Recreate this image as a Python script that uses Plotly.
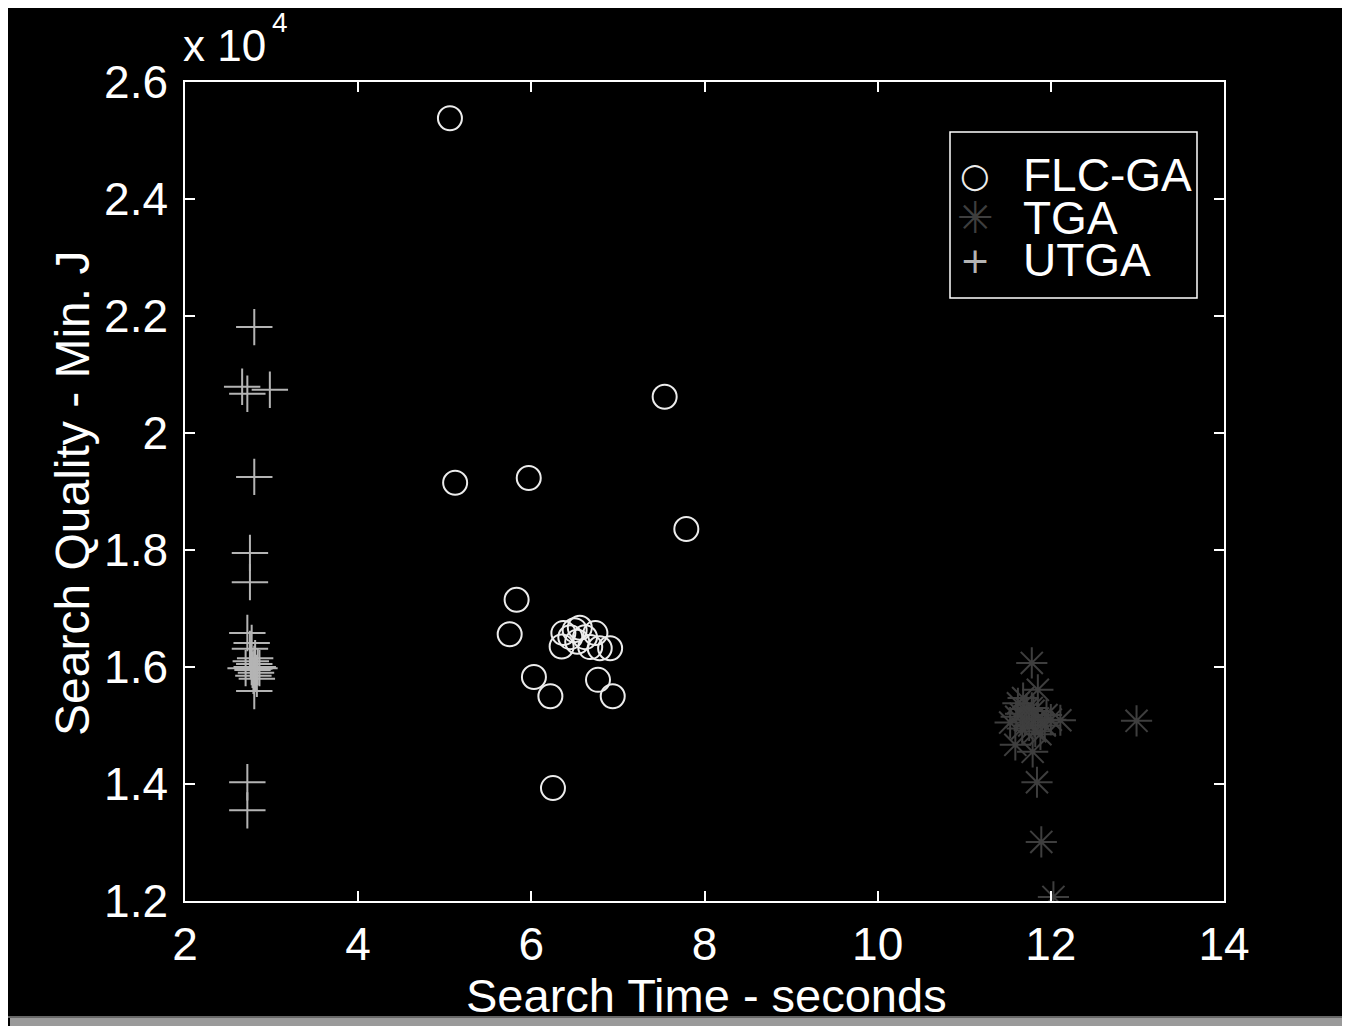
import plotly.graph_objects as go

# ---------------- data ----------------
flc_x = [5.06, 5.12, 5.97, 7.54, 7.79, 5.83, 5.75, 6.03, 6.22, 6.25, 6.77, 6.94, 6.91,
         6.35, 6.37, 6.50, 6.56, 6.62, 6.68, 6.74, 6.79, 6.45, 6.53]
flc_y = [25380, 19150, 19230, 20620, 18360, 17150, 16560, 15830, 15500, 13930, 15780, 15500, 16320,
         16350, 16580, 16630, 16670, 16510, 16340, 16580, 16320, 16510, 16430]

tga_x = [11.78, 11.85, 11.68, 12.11, 12.99, 11.59, 11.79, 11.84, 11.89, 12.03,
         11.53, 11.60, 11.65, 11.70, 11.75, 11.80, 11.85, 11.90, 11.95, 11.72,
         11.82, 11.67, 11.78, 11.88, 11.93, 12.00, 11.62]
tga_y = [16070, 15610, 15470, 15090, 15080, 14670, 14550, 14030, 13010, 12070,
         15050, 15150, 15200, 15100, 15000, 15250, 15120, 15050, 15180, 15280,
         14900, 14950, 15300, 14850, 15000, 15100, 15380]

utga_x = [2.80, 2.66, 2.72, 2.98, 2.80, 2.75, 2.75, 2.72, 2.77, 2.75, 2.80, 2.80, 2.72, 2.72,
          2.76, 2.80, 2.84, 2.78, 2.82, 2.79, 2.83, 2.77, 2.81, 2.70, 2.86]
utga_y = [21810, 20790, 20670, 20740, 19250, 17950, 17450, 16580, 16410, 16310, 15970, 15590, 14030, 13550,
          16100, 16050, 16000, 15950, 15900, 15850, 15800, 16000, 16150, 15980, 15980]

x_ticks = [2, 4, 6, 8, 10, 12, 14]
y_ticks = [12000, 14000, 16000, 18000, 20000, 22000, 24000, 26000]
y_tick_text = ["1.2", "1.4", "1.6", "1.8", "2", "2.2", "2.4", "2.6"]

series_names = ["FLC-GA", "TGA", "UTGA"]
FONT = "Liberation Sans, Arial, sans-serif"

# ---------------- layout geometry ----------------
# The page body adds an 8 px margin, so figure pixel = page pixel - OFF.
OFF = 8
W, H = 1340, 1018
L, R, T, B = 185 - OFF, 1224 - OFF, 82 - OFF, 901 - OFF
PW, PH = R - L, B - T


def px(x_page):
    return (x_page - OFF - L) / PW


def py(y_page):
    return (B - (y_page - OFF)) / PH


fig = go.Figure()

fig.add_trace(go.Scatter(
    x=flc_x, y=flc_y, mode="markers", name=series_names[0], showlegend=False,
    marker=dict(symbol="circle-open", size=24, color="#ececec", line=dict(width=2, color="#ececec")),
))
fig.add_trace(go.Scatter(
    x=tga_x, y=tga_y, mode="markers", name=series_names[1], showlegend=False,
    marker=dict(symbol="asterisk-open", size=26, color="#3e3e3e", line=dict(width=2, color="#3e3e3e")),
))
fig.add_trace(go.Scatter(
    x=utga_x, y=utga_y, mode="markers", name=series_names[2], showlegend=False,
    marker=dict(symbol="cross-thin-open", size=26, color="#b4b4b4", line=dict(width=2, color="#b4b4b4")),
))

axis_common = dict(
    showgrid=False, zeroline=False, showline=True, linecolor="white", linewidth=1.5,
    mirror="ticks", ticks="inside", ticklen=10, tickcolor="white", tickwidth=1.5,
    tickfont=dict(family=FONT, size=46, color="white"),
)

fig.update_xaxes(range=[2, 14], tickvals=x_ticks, ticklabelstandoff=2, **axis_common)
fig.update_yaxes(range=[12000, 26000], tickvals=y_ticks, ticktext=y_tick_text,
                 ticklabelstandoff=6, **axis_common)

shapes = [
    # bottom grey band of the page frame
    dict(type="rect", xref="paper", yref="paper", layer="below",
         x0=px(10), x1=px(1352), y0=py(1028), y1=py(1018),
         fillcolor="#9a9a9a", line=dict(width=0)),
    dict(type="line", xref="paper", yref="paper", layer="below",
         x0=px(6), x1=px(1352), y0=py(1017), y1=py(1017),
         line=dict(color="#d0d0d0", width=1)),
    # legend box
    dict(type="rect", xref="paper", yref="paper", layer="above",
         x0=px(950), x1=px(1197), y0=py(298), y1=py(132),
         fillcolor="rgba(0,0,0,0)", line=dict(color="white", width=1.5)),
]

annotations = [
    dict(text="Search Time - seconds", x=px(706), y=py(995), xref="paper", yref="paper",
         showarrow=False, xanchor="center", yanchor="middle",
         font=dict(family=FONT, size=47, color="white")),
    dict(text="Search Quality - Min. J", x=px(72), y=py(494), xref="paper", yref="paper",
         showarrow=False, xanchor="center", yanchor="middle", textangle=-90,
         font=dict(family=FONT, size=48, color="white")),
    dict(text="x 10", x=px(181), y=py(46), xref="paper", yref="paper",
         showarrow=False, xanchor="left", yanchor="middle",
         font=dict(family=FONT, size=44, color="white")),
    dict(text="4", x=px(280), y=py(22), xref="paper", yref="paper",
         showarrow=False, xanchor="center", yanchor="middle",
         font=dict(family=FONT, size=28, color="white")),
]

legend_rows = [175, 218, 260]
legend_glyphs = ["○", "✳", "+"]
legend_sizes = [34, 44, 36]
legend_colors = ["#ececec", "#3e3e3e", "#b4b4b4"]
for name, yy, g, s, c in zip(series_names, legend_rows, legend_glyphs, legend_sizes, legend_colors):
    annotations.append(dict(text=name, x=px(1021), y=py(yy), xref="paper", yref="paper",
                            showarrow=False, xanchor="left", yanchor="middle",
                            font=dict(family=FONT, size=46, color="white")))
    annotations.append(dict(text=g, x=px(975), y=py(yy), xref="paper", yref="paper",
                            showarrow=False, xanchor="center", yanchor="middle",
                            font=dict(family="DejaVu Sans", size=s, color=c)))

fig.update_layout(
    width=W, height=H,
    margin=dict(l=L, r=W - R, t=T, b=H - B, pad=0),
    paper_bgcolor="black", plot_bgcolor="black",
    showlegend=False,
    shapes=shapes, annotations=annotations,
)

fig.write_html("out.html")
